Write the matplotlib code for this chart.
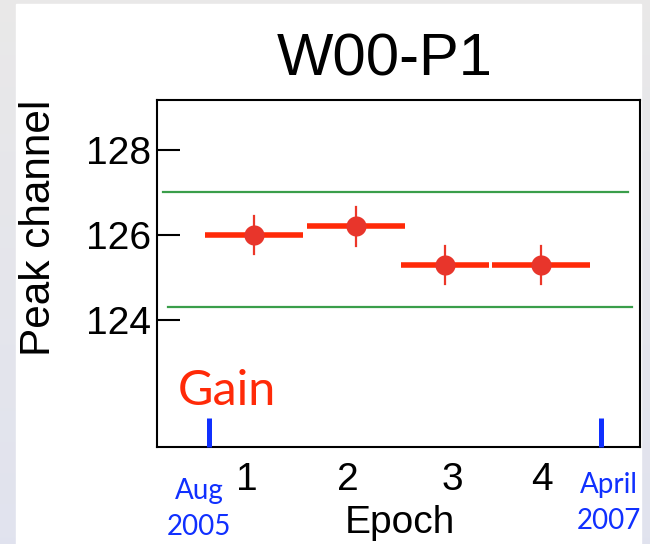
import numpy as np
import matplotlib
matplotlib.use("Agg")
import matplotlib.pyplot as plt
from matplotlib.patches import Rectangle

# Gain monitoring for detector W00-P1: peak channel per epoch
# x coordinate: months since August 2005
epoch_labels = ["1", "2", "3", "4"]
epoch_label_pos = [1.9, 7.1, 12.4, 17.0]
epoch_start = [-0.2, 5.0, 9.8, 14.45]
epoch_end = [4.8, 10.0, 14.3, 19.45]
peak_channel = [126.0, 126.2, 125.3, 125.3]
peak_error = [0.45, 0.45, 0.45, 0.45]

band_upper = 127.0
band_lower = 124.3
upper_span = [-2.37, 21.4]
lower_span = [-2.11, 21.6]

date_marks = [0.0, 20.0]
date_month = ["Aug", "April"]
date_year = ["2005", "2007"]

y_ticks = [124, 126, 128]

W, H = 650, 544
fig = plt.figure(figsize=(W / 100, H / 100), dpi=100)

# slide background with white panel
bg = fig.add_axes([0, 0, 1, 1], zorder=-10)
grad = np.linspace(0, 1, 256)[:, None]
top = np.array([0.915, 0.912, 0.912])
bot = np.array([0.882, 0.890, 0.935])
img = top[None, None, :] * (1 - grad[:, :, None]) + bot[None, None, :] * grad[:, :, None]
bg.imshow(img, aspect="auto", extent=[0, 1, 0, 1], origin="upper")
bg.add_patch(Rectangle((16 / W, 0), (641 - 16) / W, 1 - 4 / H, color="white"))
bg.set_xlim(0, 1)
bg.set_ylim(0, 1)
bg.axis("off")

ax = fig.add_axes([157 / W, 1 - 447 / H, (640 - 157) / W, (447 - 100) / H])
ax.set_xlim(-2.67, 22.0)
ax.set_ylim(121.0, 129.18)

# acceptance band
ax.plot(upper_span, [band_upper, band_upper], color="#3a9e4a", lw=1.6)
ax.plot(lower_span, [band_lower, band_lower], color="#3a9e4a", lw=1.6)

# epoch bars and points
for s, e, v, err in zip(epoch_start, epoch_end, peak_channel, peak_error):
    c = (s + e) / 2
    ax.plot([s, e], [v, v], color="#ff2a08", lw=4.0, solid_capstyle="butt", zorder=3)
    ax.plot([c, c], [v - err, v + err], color="#ec3628", lw=1.6, zorder=4)
    ax.plot([c], [v], "o", color="#e8352b", ms=14.5, mec="none", zorder=5)

# date markers
for m in date_marks:
    ax.plot([m, m], [121.0, 121.68], color="#1030ff", lw=3.6, solid_capstyle="butt",
            clip_on=False, zorder=4)

ax.text(-1.6, 122.0, "Gain", color="#ff2a08", fontsize=35, family="Lato",
        ha="left", va="baseline")

for sp in ax.spines.values():
    sp.set_linewidth(1.5)
    sp.set_color("black")

ax.set_yticks(y_ticks)
ax.set_yticklabels([str(t) for t in y_ticks], fontsize=28, family="Liberation Sans")
ax.tick_params(axis="y", direction="in", length=16.5, width=1.5, pad=4)
ax.set_xticks(epoch_label_pos)
ax.set_xticklabels(epoch_labels, fontsize=28, family="Liberation Sans")
ax.tick_params(axis="x", length=0, pad=10.5)

# date labels below the axis
date_x = [199 / W, 608.5 / W]
month_base = [1 - 499.5 / H, 1 - 493.5 / H]
year_base = [1 - 535 / H, 1 - 529 / H]
for x, mb, yb, mo, yr in zip(date_x, month_base, year_base, date_month, date_year):
    fig.text(x, mb, mo, color="#1030ff", fontsize=20, family="Lato",
             ha="center", va="baseline")
    fig.text(x, yb, yr, color="#1030ff", fontsize=20, family="Lato",
             ha="center", va="baseline")

fig.text(384.5 / W, 1 - 76 / H, "W00-P1", fontsize=43, family="Liberation Sans",
         ha="center", va="baseline")
fig.text(39.5 / W, 1 - 228 / H, "Peak channel", fontsize=30.5, family="Liberation Sans",
         rotation=90, ha="center", va="center")
fig.text(400 / W, 1 - 533 / H, "Epoch", fontsize=28, family="Liberation Sans",
         ha="center", va="baseline")

fig.savefig("out.png", dpi=100)
